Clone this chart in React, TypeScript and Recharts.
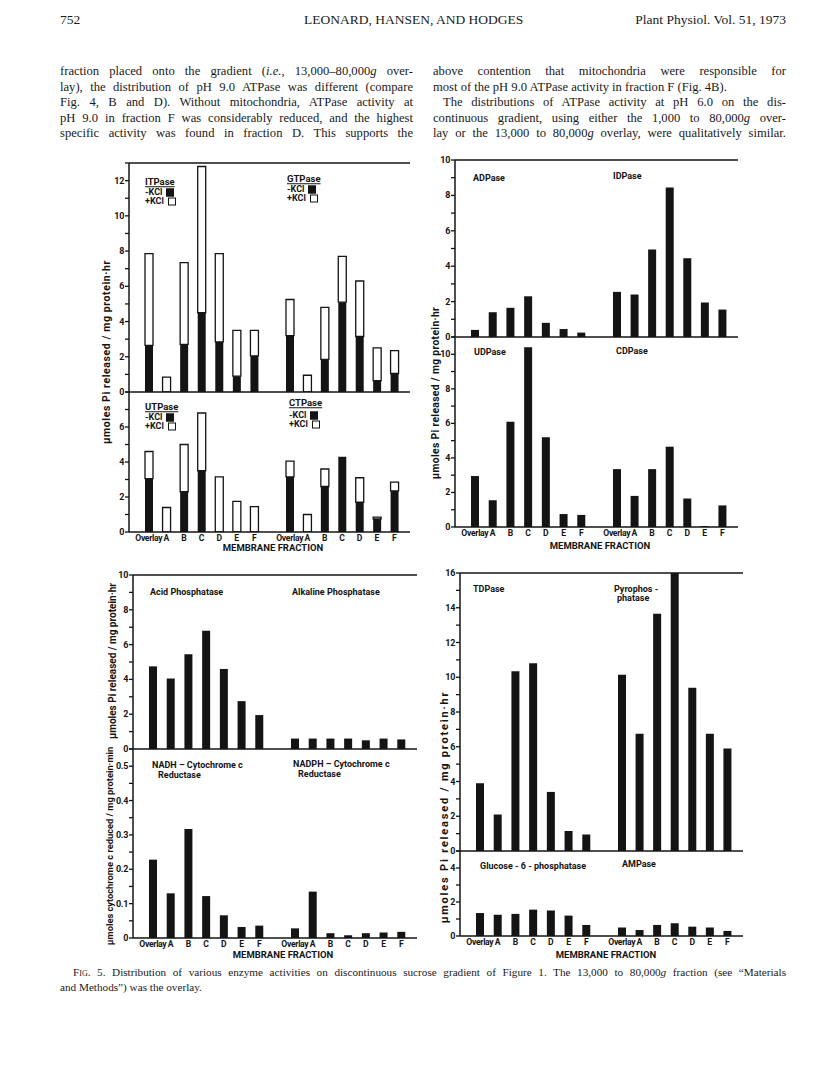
import React from "react";
import { BarChart, Bar, XAxis, YAxis, ReferenceLine } from "recharts";

const fractions = ["Overlay", "A", "B", "C", "D", "E", "F"];

// triphosphatases: solid part is -KCl, top of the open bar is +KCl
const itpaseMinusKcl = [2.65, 0, 2.7, 4.5, 2.85, 0.9, 2.05];
const itpasePlusKcl = [7.85, 0.85, 7.35, 12.8, 7.85, 3.5, 3.5];
const gtpaseMinusKcl = [3.2, 0, 1.85, 5.1, 3.15, 0.65, 1.05];
const gtpasePlusKcl = [5.25, 0.95, 4.8, 7.7, 6.3, 2.5, 2.35];
const utpaseMinusKcl = [3.05, 0, 2.3, 3.5, 0, 0, 0];
const utpasePlusKcl = [4.6, 1.4, 5.0, 6.8, 3.15, 1.75, 1.45];
const ctpaseMinusKcl = [3.15, 0, 2.6, 4.3, 1.7, 0.75, 2.35];
const ctpasePlusKcl = [4.05, 1.0, 3.6, 4.3, 3.1, 0.85, 2.85];

// diphosphatases
const adpase = [0.4, 1.4, 1.65, 2.3, 0.8, 0.45, 0.25];
const idpase = [2.55, 2.4, 4.95, 8.45, 4.45, 1.95, 1.55];
const udpase = [2.95, 1.55, 6.1, 10.4, 5.2, 0.75, 0.7];
const cdpase = [3.35, 1.8, 3.35, 4.65, 1.65, 0.05, 1.25];

// phosphatases and reductases
const acidPhosphatase = [4.75, 4.05, 5.45, 6.8, 4.6, 2.75, 1.95];
const alkalinePhosphatase = [0.6, 0.6, 0.6, 0.6, 0.5, 0.6, 0.55];
const nadhReductase = [0.228, 0.13, 0.317, 0.122, 0.066, 0.032, 0.036];
const nadphReductase = [0.028, 0.135, 0.014, 0.008, 0.014, 0.016, 0.018];

const tdpase = [3.9, 2.1, 10.35, 10.8, 3.4, 1.15, 0.95];
const pyrophosphatase = [10.15, 6.75, 13.65, 16.0, 9.4, 6.75, 5.9];
const glucose6Phosphatase = [1.35, 1.25, 1.3, 1.55, 1.5, 1.2, 0.65];
const ampase = [0.5, 0.35, 0.65, 0.75, 0.55, 0.5, 0.3];

// labelled y ticks
const labels0to12 = [0, 2, 4, 6, 8, 10, 12];
const labels0to6 = [0, 2, 4, 6];
const labels0to10 = [0, 2, 4, 6, 8, 10];
const labels0to16 = [0, 2, 4, 6, 8, 10, 12, 14, 16];
const labels0to4 = [0, 2, 4];
const labelsReductase = [0, 0.1, 0.2, 0.3, 0.4, 0.5];

const INK = "#141414";
const SANS = "Roboto, 'DejaVu Sans', sans-serif";
const SERIF = "'Liberation Serif', 'DejaVu Serif', serif";
const PI_LABEL = "\u00b5moles Pi released / mg protein\u00b7hr";

const single = (vals: number[]) => fractions.map((name, i) => ({ name, v: vals[i] }));
const twoTone = (minus: number[], plus: number[]) =>
  fractions.map((name, i) => ({ name, minus: minus[i], extra: +(plus[i] - minus[i]).toFixed(3) }));

function minorTicks(max: number, step: number) {
  const out: number[] = [];
  for (let i = 0; i * step <= max + 1e-9; i++) out.push(+(i * step).toFixed(3));
  return out;
}

type PanelProps = {
  x: number;
  y: number;
  w: number;
  h: number;
  data: any[];
  max: number;
  step?: number;
  labels: number[];
  left?: boolean;
  bottom?: boolean;
  stacked?: boolean;
  fmt?: (v: number) => string;
};

function Panel({ x, y, w, h, data, max, step = 1, labels, left, bottom, stacked, fmt = String }: PanelProps) {
  const m = 8;
  const yw = left ? 28 : 0;
  const xh = bottom ? 16 : 0;
  const ticks = minorTicks(max, step);
  const isLabel = (v: number) => labels.some((l) => Math.abs(l - v) < 1e-6);

  const leftTick = (p: any) => (
    <g>
      <line x1={left ? p.x - 4 : p.x - 3} x2={left ? p.x : p.x + 3} y1={p.y} y2={p.y} stroke={INK} strokeWidth={1.3} />
      {left && isLabel(p.payload.value) && (
        <text
          x={p.x - 5}
          y={p.y}
          textAnchor="end"
          dominantBaseline="central"
          fontSize={9}
          letterSpacing={-0.3}
          fontFamily={SANS}
          fontWeight={700}
          fill={INK}
        >
          {fmt(p.payload.value)}
        </text>
      )}
    </g>
  );
  const rightTick = (p: any) => (
    <line x1={p.x - 4} x2={p.x} y1={p.y} y2={p.y} stroke={INK} strokeWidth={1.3} />
  );
  const xTick = (p: any) => (
    <text
      x={p.x}
      y={p.y + 6}
      textAnchor="middle"
      dominantBaseline="central"
      fontSize={8.6}
      letterSpacing={-0.3}
      fontFamily={SANS}
      fontWeight={700}
      fill={INK}
    >
      {p.payload.value}
    </text>
  );
  const axisLine = { stroke: INK, strokeWidth: 1.5 };

  return (
    <div style={{ position: "absolute", left: x - yw - m, top: y - m }}>
      <BarChart
        width={w + yw + 2 * m}
        height={h + 2 * m + xh}
        data={data}
        margin={{ top: m, right: m, bottom: m, left: m }}
        barSize={8}
      >
        <XAxis
          dataKey="name"
          interval={0}
          padding={{ left: 11, right: 7 }}
          axisLine={axisLine}
          tickLine={false}
          tickSize={0}
          tickMargin={0}
          height={xh}
          tick={bottom ? xTick : false}
        />
        <YAxis
          yAxisId="l"
          type="number"
          domain={[0, max]}
          allowDataOverflow
          ticks={ticks}
          interval={0}
          width={yw}
          axisLine={axisLine}
          tickLine={false}
          tickSize={0}
          tickMargin={0}
          tick={leftTick}
        />
        {!left && (
          <YAxis
            yAxisId="r"
            orientation="right"
            type="number"
            domain={[0, max]}
            allowDataOverflow
            ticks={ticks}
            interval={0}
            width={0}
            axisLine={axisLine}
            tickLine={false}
            tickSize={0}
            tickMargin={0}
            tick={rightTick}
          />
        )}
        <ReferenceLine yAxisId="l" y={max} stroke={INK} strokeWidth={1.5} />
        {stacked ? (
          <>
            <Bar yAxisId="l" dataKey="minus" stackId="s" fill={INK} isAnimationActive={false} />
            <Bar yAxisId="l" dataKey="extra" stackId="s" fill="#fff" stroke={INK} strokeWidth={1.3} isAnimationActive={false} />
          </>
        ) : (
          <Bar yAxisId="l" dataKey="v" fill={INK} isAnimationActive={false} />
        )}
      </BarChart>
    </div>
  );
}

function Txt({ x, y, children, size = 9, underline, anchor = "left" }: any) {
  return (
    <div
      style={{
        position: "absolute",
        left: x,
        top: y,
        transform: anchor === "center" ? "translate(-50%, -50%)" : "translateY(-50%)",
        fontFamily: SANS,
        fontWeight: 700,
        fontSize: size,
        color: INK,
        whiteSpace: "nowrap",
        textDecoration: underline ? "underline" : "none",
        lineHeight: 1,
      }}
    >
      {children}
    </div>
  );
}

function KclLegend({ x, y }: { x: number; y: number }) {
  const box = (filled: boolean) => (
    <span
      style={{
        display: "inline-block",
        width: 6,
        height: 6,
        marginLeft: 4,
        background: filled ? INK : "#fff",
        border: `1.2px solid ${INK}`,
        verticalAlign: "middle",
      }}
    />
  );
  return (
    <>
      <Txt x={x} y={y}>-KCl{box(true)}</Txt>
      <Txt x={x} y={y + 9}>+KCl{box(false)}</Txt>
    </>
  );
}

function YTitle({ x, y, size = 10, spacing = 0, children }: any) {
  return (
    <div
      style={{
        position: "absolute",
        left: x,
        top: y,
        transform: "translate(-50%, -50%) rotate(-90deg)",
        fontFamily: SANS,
        fontWeight: 700,
        fontSize: size,
        letterSpacing: spacing,
        color: INK,
        whiteSpace: "nowrap",
        lineHeight: 1,
      }}
    >
      {children}
    </div>
  );
}

function Line({ x, y, w, children, size = 12.6, justify = true }: any) {
  return (
    <div
      style={{
        position: "absolute",
        left: x,
        top: y,
        width: w,
        fontFamily: SERIF,
        fontSize: size,
        lineHeight: "15px",
        color: "#1a1a1a",
        textAlign: justify ? "justify" : "left",
        textAlignLast: justify ? "justify" : "left",
      }}
    >
      {children}
    </div>
  );
}

export default function App() {
  const lineTops = [64, 80, 95, 111, 126];
  return (
    <div style={{ position: "absolute", left: 0, top: 0, width: 816, height: 1088, background: "#fff", overflow: "hidden" }}>
      {/* running head */}
      <div style={{ position: "absolute", left: 60, top: 12, fontFamily: SERIF, fontSize: 13.5, color: "#1a1a1a" }}>752</div>
      <div style={{ position: "absolute", left: 304, top: 12, fontFamily: SERIF, fontSize: 13.5, color: "#1a1a1a" }}>
        LEONARD, HANSEN, AND HODGES
      </div>
      <div style={{ position: "absolute", right: 30, top: 12, fontFamily: SERIF, fontSize: 13.5, color: "#1a1a1a" }}>
        Plant Physiol. Vol. 51, 1973
      </div>

      {/* body text */}
      <Line x={60} y={lineTops[0]} w={353}>
        fraction placed onto the gradient (<i>i.e.</i>, 13,000–80,000<i>g</i> over-
      </Line>
      <Line x={60} y={lineTops[1]} w={353}>lay), the distribution of pH 9.0 ATPase was different (compare</Line>
      <Line x={60} y={lineTops[2]} w={353}>Fig. 4, B and D). Without mitochondria, ATPase activity at</Line>
      <Line x={60} y={lineTops[3]} w={353}>pH 9.0 in fraction F was considerably reduced, and the highest</Line>
      <Line x={60} y={lineTops[4]} w={353}>specific activity was found in fraction D. This supports the</Line>

      <Line x={433} y={lineTops[0]} w={353}>above contention that mitochondria were responsible for</Line>
      <Line x={433} y={lineTops[1]} w={353} justify={false}>most of the pH 9.0 ATPase activity in fraction F (Fig. 4B).</Line>
      <Line x={443} y={lineTops[2]} w={343}>The distributions of ATPase activity at pH 6.0 on the dis-</Line>
      <Line x={433} y={lineTops[3]} w={353}>
        continuous gradient, using either the 1,000 to 80,000<i>g</i> over-
      </Line>
      <Line x={433} y={lineTops[4]} w={353}>
        lay or the 13,000 to 80,000<i>g</i> overlay, were qualitatively similar.
      </Line>

      {/* nucleoside triphosphatases */}
      <Panel x={129} y={163} w={141} h={229} data={twoTone(itpaseMinusKcl, itpasePlusKcl)} max={13} labels={labels0to12} left stacked />
      <Panel x={270} y={163} w={140} h={229} data={twoTone(gtpaseMinusKcl, gtpasePlusKcl)} max={13} labels={labels0to12} stacked />
      <Panel x={129} y={392} w={141} h={140} data={twoTone(utpaseMinusKcl, utpasePlusKcl)} max={8} labels={labels0to6} left bottom stacked />
      <Panel x={270} y={392} w={140} h={140} data={twoTone(ctpaseMinusKcl, ctpasePlusKcl)} max={8} labels={labels0to6} bottom stacked />
      <Txt x={145} y={182} size={9.5} underline>ITPase</Txt>
      <KclLegend x={145} y={192} />
      <Txt x={287} y={179} size={9.5} underline>GTPase</Txt>
      <KclLegend x={287} y={189} />
      <Txt x={145} y={407} size={9.5} underline>UTPase</Txt>
      <KclLegend x={145} y={417} />
      <Txt x={289} y={403} size={9.5} underline>CTPase</Txt>
      <KclLegend x={289} y={415} />
      <YTitle x={107} y={352} size={10.5} spacing={0.6}>{PI_LABEL}</YTitle>
      <Txt x={273} y={548} size={9.5} anchor="center">MEMBRANE FRACTION</Txt>

      {/* nucleoside diphosphatases */}
      <Panel x={455} y={160} w={142} h={177} data={single(adpase)} max={10} labels={labels0to10} left />
      <Panel x={597} y={160} w={141} h={177} data={single(idpase)} max={10} labels={labels0to10} />
      <Panel x={455} y={337} w={142} h={190} data={single(udpase)} max={11} labels={labels0to10} left bottom />
      <Panel x={597} y={337} w={141} h={190} data={single(cdpase)} max={11} labels={labels0to10} bottom />
      <Txt x={473} y={178}>ADPase</Txt>
      <Txt x={613} y={176}>IDPase</Txt>
      <Txt x={474} y={352}>UDPase</Txt>
      <Txt x={616} y={351}>CDPase</Txt>
      <YTitle x={436} y={393} size={10.3} spacing={0.35}>{PI_LABEL}</YTitle>
      <Txt x={600} y={546} size={9.5} anchor="center">MEMBRANE FRACTION</Txt>

      {/* phosphatases and reductases */}
      <Panel x={133} y={575} w={142} h={174} data={single(acidPhosphatase)} max={10} labels={labels0to10} left />
      <Panel x={275} y={575} w={142} h={174} data={single(alkalinePhosphatase)} max={10} labels={labels0to10} />
      <Panel
        x={133}
        y={749}
        w={142}
        h={189}
        data={single(nadhReductase)}
        max={0.55}
        step={0.05}
        labels={labelsReductase}
        left
        bottom
        fmt={(v) => (v === 0 ? "0" : v.toFixed(1))}
      />
      <Panel x={275} y={749} w={142} h={189} data={single(nadphReductase)} max={0.55} step={0.05} labels={labelsReductase} bottom />
      <Txt x={150} y={592}>Acid Phosphatase</Txt>
      <Txt x={292} y={592}>Alkaline Phosphatase</Txt>
      <Txt x={152} y={765}>NADH – Cytochrome c</Txt>
      <Txt x={158} y={775}>Reductase</Txt>
      <Txt x={293} y={764}>NADPH – Cytochrome c</Txt>
      <Txt x={298} y={774}>Reductase</Txt>
      <YTitle x={113} y={661} size={10}>{PI_LABEL}</YTitle>
      <YTitle x={110} y={846} size={9.3}>{"\u00b5moles cytochrome c reduced / mg protein\u00b7min"}</YTitle>
      <Txt x={283} y={955} size={9.5} anchor="center">MEMBRANE FRACTION</Txt>

      {/* TDPase, pyrophosphatase, G6Pase, AMPase */}
      <Panel x={460} y={573} w={142} h={278} data={single(tdpase)} max={16} labels={labels0to16} left />
      <Panel x={602} y={573} w={141} h={278} data={single(pyrophosphatase)} max={16} labels={labels0to16} />
      <Panel x={460} y={851} w={142} h={85} data={single(glucose6Phosphatase)} max={5} labels={labels0to4} left bottom />
      <Panel x={602} y={851} w={141} h={85} data={single(ampase)} max={5} labels={labels0to4} bottom />
      <Txt x={473} y={589}>TDPase</Txt>
      <Txt x={614} y={589}>Pyrophos -</Txt>
      <Txt x={617} y={598}>phatase</Txt>
      <Txt x={480} y={866}>Glucose - 6 - phosphatase</Txt>
      <Txt x={622} y={864}>AMPase</Txt>
      <YTitle x={444} y={807} size={11} spacing={1.8}>{PI_LABEL}</YTitle>
      <Txt x={606} y={955} size={9.5} anchor="center">MEMBRANE FRACTION</Txt>

      {/* caption */}
      <Line x={73} y={965} w={713} size={11.2}>
        <span style={{ fontVariant: "small-caps" }}>Fig.</span> 5. Distribution of various enzyme activities on discontinuous sucrose gradient of Figure 1. The 13,000 to 80,000<i>g</i> fraction (see “Materials
      </Line>
      <Line x={60} y={980} w={713} size={11.2} justify={false}>
        and Methods”) was the overlay.
      </Line>
    </div>
  );
}
